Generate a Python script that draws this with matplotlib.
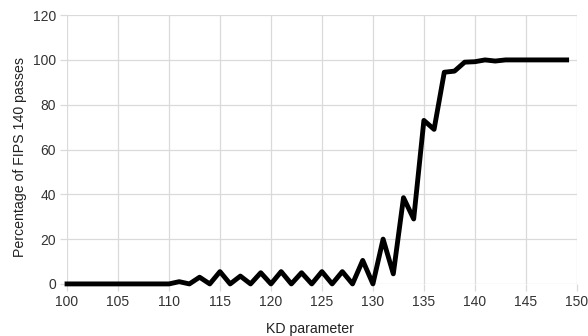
import matplotlib
matplotlib.use("Agg")
import matplotlib.pyplot as plt

kd = list(range(100, 150))
passes = [0, 0, 0, 0, 0, 0, 0, 0, 0, 0,
          0, 1, 0, 3, 0, 5.5, 0, 3.5, 0, 5,
          0, 5.5, 0, 5, 0, 5.5, 0, 5.5, 0, 10.5,
          0, 20, 4.5, 38.5, 29, 73, 69, 94.5, 95, 99,
          99.2, 100, 99.5, 100, 100, 100, 100, 100, 100, 100]
xticks = list(range(100, 151, 5))
yticks = list(range(0, 121, 20))

plt.rcParams['font.family'] = ['Liberation Sans', 'DejaVu Sans']

fig = plt.figure(figsize=(5.88, 3.36), dpi=100)
ax = fig.add_axes([0.114, 0.155, 0.867, 0.80])
ax.plot(kd, passes, color='black', linewidth=3.5, clip_on=False, zorder=3)

ax.set_xlim(100, 150)
ax.set_ylim(0, 120)
ax.set_xticks(xticks)
ax.set_yticks(yticks)
ax.grid(True, color='#dadada', linewidth=0.9)
ax.set_axisbelow(True)
for s in ax.spines.values():
    s.set_visible(False)
ax.tick_params(length=5, width=0.9, color='#dadada', labelsize=10,
               labelcolor='#333333', pad=3)
ax.set_xlabel('KD parameter', fontsize=10.2, color='#222222')
ax.set_ylabel('Percentage of FIPS 140 passes', fontsize=10.2, color='#222222')
ax.xaxis.set_label_coords(0.477, -0.14)
ax.yaxis.set_label_coords(-0.078, 0.472)

fig.savefig('out.png', dpi=100)
